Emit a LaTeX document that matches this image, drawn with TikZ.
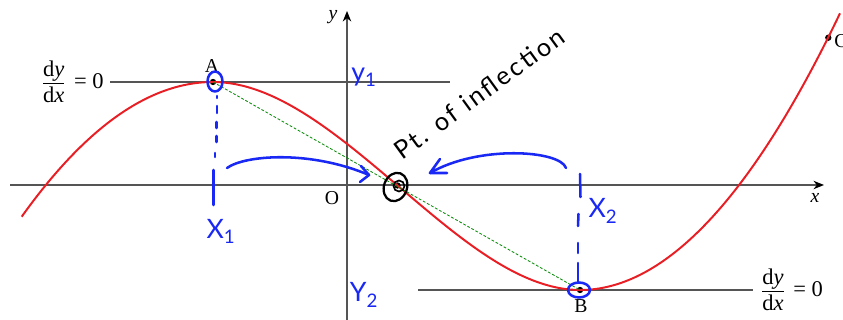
\documentclass[tikz,border=0pt]{standalone}
\usepackage{fontspec}
\setmainfont{Liberation Serif}
\newfontfamily\handfont{Lato}
\newfontfamily\handwide[LetterSpace=10]{Lato}
\usetikzlibrary{arrows.meta}
\definecolor{handblue}{RGB}{25,40,245}
\definecolor{curvered}{RGB}{232,30,36}
\definecolor{axgray}{RGB}{85,85,85}
\definecolor{chordgreen}{RGB}{10,140,10}
\newcommand{\mydydx}{\ensuremath{\vcenter{\offinterlineskip\halign{\hfil##\hfil\cr d\textit{y}\cr\noalign{\kern1pt\hrule height 0.6pt\kern2pt}d\textit{x}\cr}}}}
\tikzset{
  axline/.style={draw=axgray, line width=0.9pt},
  tanline/.style={draw=axgray, line width=0.8pt},
  curvest/.style={draw=curvered, line width=1.4pt},
  handst/.style={draw=handblue, line width=1.8pt, line cap=round, line join=round},
  handblk/.style={draw=black, line width=1.6pt, line cap=round, line join=round},
  dotst/.style={circle, fill=black, inner sep=0pt, minimum size=4.5pt},
  lbl/.style={font=\fontsize{14}{14}\selectfont, inner sep=0pt},
  fraclbl/.style={font=\fontsize{16}{16}\selectfont, inner sep=0pt},
  bl/.style={text=handblue, font=\handfont\fontsize{19}{19}\selectfont, inner sep=0pt},
  axtip/.style={-{Stealth[length=7.5pt,width=6pt,color=black]}}
}
\begin{document}
\begin{tikzpicture}[x=0.025cm,y=-0.025cm]
\useasboundingbox (0,0) rectangle (843,320);
% axes
\coordinate (xl) at (10,185);
\coordinate (xr) at (824,185);
\coordinate (yb) at (347,321);
\coordinate (yt) at (347,11);
\draw[axline,axtip] (xl) -- (xr);
\draw[axline,axtip] (yb) -- (yt);
% tangent lines
\coordinate (t1l) at (110,82);
\coordinate (t1r) at (450,82);
\coordinate (t2l) at (418,290);
\coordinate (t2r) at (753,290);
\draw[tanline] (t1l) -- (t1r);
\draw[tanline] (t2l) -- (t2r);
% points
\node[dotst] (A) at (213,82) {};
\node[dotst] (I) at (397.5,185.5) {};
\node[dotst] (B) at (580,290) {};
\node[dotst] (C) at (828.3,37.7) {};
% curve
\draw[curvest] (21.7,216.7) .. controls (85.4,127.5) and (149.3,82) .. (A.center)
  .. controls (274.3,82) and (335.7,132.9) .. (I.center)
  .. controls (458,236.9) and (519,290) .. (B.center)
  .. controls (666.7,290) and (753.3,194.5) .. (840,13.3);
% chord
\draw[chordgreen, line width=0.6pt, dash pattern=on 2pt off 1.3pt] (A.center) -- (B.center);
% labels
\node[fraclbl, anchor=east] (d1) at (104,82) {\mydydx\hspace{7pt}=\hspace{4pt}0};
\node[fraclbl, anchor=west] (d2) at (762,290) {\mydydx\hspace{7pt}=\hspace{4pt}0};
\node[lbl] (la) at (212,66) {A};
\node[lbl] (lb) at (581,306) {B};
\node[lbl, anchor=west] (lc) at (834,41) {C};
\node[lbl] (lo) at (332,198) {O};
\node[lbl] (ly) at (333,17) {\textit{y}};
\node[lbl] (lx) at (815,198) {\textit{x}};
% hand annotations: circles
\draw[handst] (215,81.5) ellipse [x radius=7.5, y radius=10];
\draw[handst] (579,290) ellipse [x radius=11, y radius=7.5];
\draw[handblk, rotate around={-20:(395.5,187)}] (395.5,187) ellipse [x radius=11.5, y radius=14.5];
\draw[handblk, line width=1.2pt] (399,186) circle [radius=5.5];
% vertical dash-dot from A
\draw[handst] (217,96) -- (217,98);
\draw[handst] (217,106) -- (217,113);
\draw[handst] (216.7,122) -- (216.7,128);
\draw[handst] (216.5,136) -- (216.5,142);
\draw[handst] (215,153) -- (215,157);
\draw[handst] (213.5,170) -- (213.5,205);
% vertical dashes to B
\draw[handst] (580,174) -- (580.5,197);
\draw[handst] (578.5,214) -- (578,226);
\draw[handst] (578,243) -- (578,253);
\draw[handst] (578,263) -- (578,282);
% hand arrows
\coordinate (a1s) at (227,168);
\coordinate (a1e) at (369,175);
\draw[handst] (a1s) .. controls (245,155) and (310,150) .. (a1e);
\draw[handst] (361,166) -- (a1e) -- (360,182);
\coordinate (a2s) at (566,168);
\coordinate (a2e) at (430,173);
\draw[handst] (a2s) .. controls (560,150) and (478,145) .. (a2e);
\draw[handst] (440,159) -- (a2e) -- (447,173);
% hand labels
\node[bl] (x1) at (221,231) {X\textsubscript{1}};
\node[bl] (y1) at (364,77) {y\textsubscript{1}};
\node[bl] (y2) at (364,295) {Y\textsubscript{2}};
\node[bl] (x2) at (603,211) {X\textsubscript{2}};
\node[font=\handwide\fontsize{18}{18}\selectfont, rotate=36, anchor=base west, inner sep=0pt] (pt) at (402,161) {Pt. of inflection};
\end{tikzpicture}
\end{document}
